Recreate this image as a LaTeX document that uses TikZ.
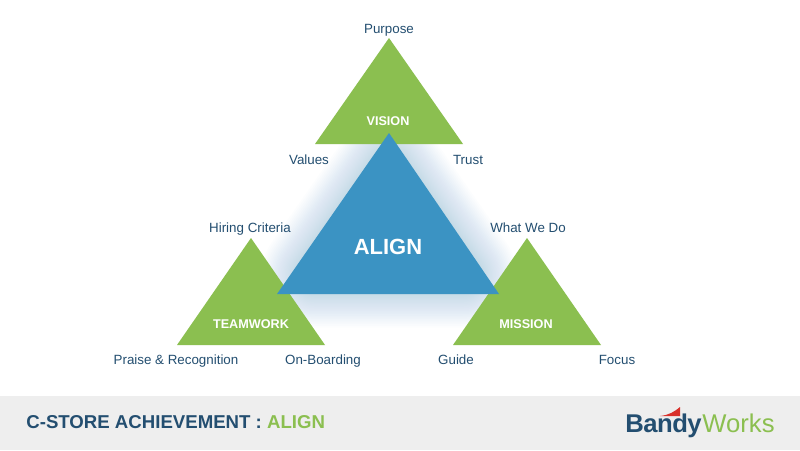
\documentclass[tikz,border=0pt]{standalone}
\usepackage{fontspec}
\setmainfont{Liberation Sans}
\newfontfamily\bandyfont[LetterSpace=-2]{Liberation Sans}
\definecolor{leaf}{HTML}{8BBF50}
\definecolor{sky}{HTML}{3B93C3}
\definecolor{navy}{HTML}{234E70}
\definecolor{band}{HTML}{EEEEEE}
\definecolor{swoosh}{HTML}{D9312B}
\tikzset{
    corner/.style={text=navy,font=\fontsize{7.6}{9}\selectfont,inner sep=0pt,anchor=base},
    title/.style={text=white,font=\fontsize{7.2}{9}\selectfont\bfseries,inner sep=0pt,anchor=base}
}

\begin{document}
\begin{tikzpicture}[x=0.02cm,y=-0.02cm]
    \useasboundingbox (0,0) rectangle (800,450);
    \fill[white] (0,0) rectangle (800,450);

    % glow round the middle triangle
    \foreach \i in {1,...,60} {
        \draw[sky,opacity=0.012,line width=\i*\i*0.0006cm,line join=round,fill=sky] (389,168) -- (315,274) -- (463,274) -- cycle;
    }

    \fill[leaf] (389,38) -- (315,144) -- (463,144) -- cycle;
    \fill[leaf] (251,238) -- (177,345) -- (325,345) -- cycle;
    \fill[leaf] (527,238) -- (453,345) -- (601,345) -- cycle;
    \fill[sky] (389,133) -- (277,294) -- (499,294) -- cycle;

    \node[title] (vision) at (388,125) {VISION};
    \node[title] (teamwork) at (251,328) {TEAMWORK};
    \node[title] (mission) at (526,328) {MISSION};
    \node[text=white,font=\fontsize{12.5}{15}\selectfont\bfseries,inner sep=0pt,anchor=base] (align) at (388,254) {ALIGN};

    \node[corner] (purpose) at (389,33) {Purpose};
    \node[corner] (values) at (309,164) {Values};
    \node[corner] (trust) at (468,164) {Trust};
    \node[corner] (hiring) at (250,232) {Hiring Criteria};
    \node[corner] (whatwedo) at (528,232) {What We Do};
    \node[corner] (praise) at (176,364) {Praise \& Recognition};
    \node[corner] (onboarding) at (323,364) {On-Boarding};
    \node[corner] (guide) at (456,364) {Guide};
    \node[corner] (focus) at (617,364) {Focus};

    % bottom band
    \fill[band] (0,396) rectangle (800,450);
    \node[anchor=base west,inner sep=0pt,font=\fontsize{10.6}{12}\selectfont\bfseries,text=navy] (footer) at (26,428) {C-STORE ACHIEVEMENT : \textcolor{leaf}{ALIGN}};

    % logo
    \fill[swoosh] (660,416) .. controls (669,415) and (674,412) .. (680,407) -- (680,416) -- cycle;
    \node[anchor=base west,inner sep=0pt,text=navy,font=\bandyfont\fontsize{14.6}{18}\selectfont\bfseries] (bandy) at (625,432) {Bandy};
    \node[anchor=base west,inner sep=0pt,text=leaf,font=\fontsize{14.6}{18}\selectfont] (works) at (bandy.base east) {Works};
\end{tikzpicture}
\end{document}
